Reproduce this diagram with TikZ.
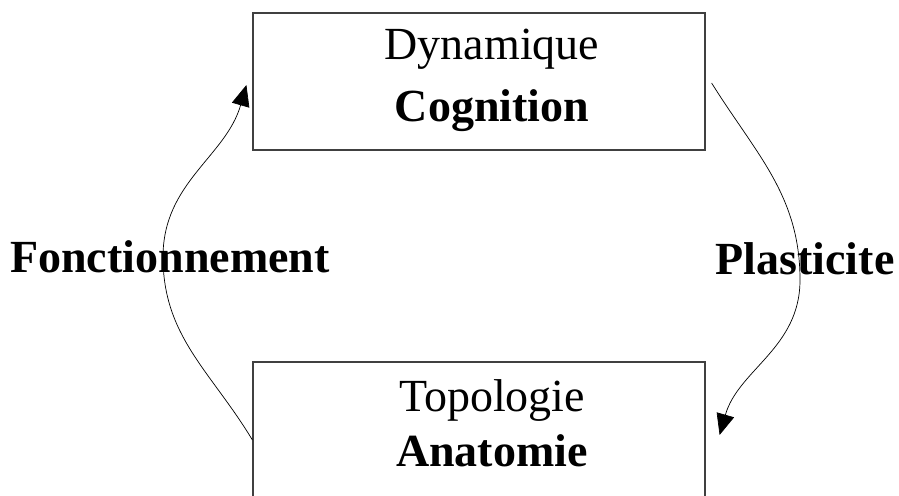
\documentclass[tikz,border=0pt]{standalone}
\usepackage{fontspec}
\setmainfont{Liberation Serif}
\usetikzlibrary{arrows.meta}

\begin{document}
\begin{tikzpicture}[x=1pt, y=1pt, -{Triangle[length=21pt,width=18pt]}, line width=0.7pt,
        every node/.append style={font=\fontsize{46}{60}\selectfont}]
      \tikzstyle{box} = [draw=black!75, line width=1.2pt, minimum width=452pt, minimum height=137pt, inner sep=0pt]
      \tikzstyle{words} = [align=center, inner sep=0pt]
      \tikzstyle{flow} = [font=\fontsize{46}{60}\selectfont\bfseries, anchor=base, inner sep=0pt]
      \useasboundingbox (0,0) rectangle (899,495);
      \node (cognition) [box] at (479,413.5) {};
      \node (anatomie) [box] at (479,64.5) {};
      \node (cogtext) [words] at ([shift={(13,1)}]cognition.center) {Dynamique\\[2pt]\textbf{Cognition}};
      \node (anatext) [words] at ([shift={(13,7)}]anatomie.center) {Topologie\\[-5pt]\textbf{Anatomie}};
      \node (fonct) [flow] at (170,222) {Fonctionnement};
      \node (plast) [flow] at (805,220) {Plasticite};
      \coordinate (fmid) at (163,238);
      \coordinate (pmid) at (800,215);
      \draw ([yshift=-9.5]anatomie.west) to[out=121,in=-90] (fmid)
        to[out=90,in=-106] ([shift={(-6,-3.5)}]cognition.west);
      \draw ([shift={(6,-1.5)}]cognition.east) to[out=-58,in=90] (pmid)
        to[out=-90,in=74] ([shift={(14,-4.5)}]anatomie.east);
    \end{tikzpicture}
\end{document}
